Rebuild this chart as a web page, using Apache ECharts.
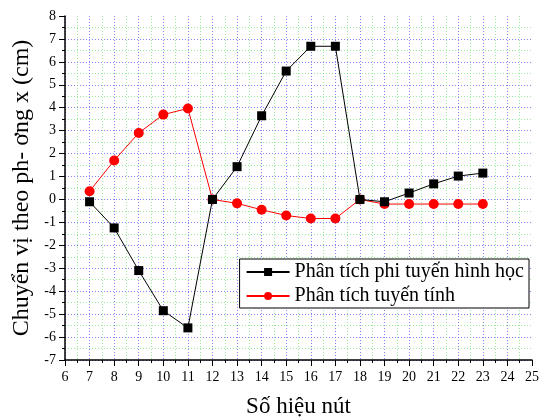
<!DOCTYPE html>
<html><head><meta charset="utf-8">
<script src="https://cdn.jsdelivr.net/npm/echarts@6/dist/echarts.min.js"></script>
<style>html,body{margin:0;padding:0;background:#fff}#c{width:540px;height:419px}</style>
</head><body><div id="c"></div>
<script>
const nodes = [7,8,9,10,11,12,13,14,15,16,17,18,19,20,21,22,23];
const nonlinear = [-0.1,-1.24,-3.1,-4.85,-5.6,0.0,1.43,3.65,5.6,6.68,6.68,0.0,-0.1,0.28,0.68,1.02,1.15];
const linear = [0.36,1.7,2.9,3.7,3.97,0.0,-0.17,-0.45,-0.7,-0.83,-0.83,0.0,-0.2,-0.2,-0.2,-0.2,-0.2];
const seriesNames = ['Phân tích phi tuyến hình học','Phân tích tuyến tính'];
const xTitle = 'Số hiệu nút';
const yTitle = 'Chuyển vị theo ph- ơng x (cm)';

const font = 'Liberation Serif';
const blue = 'rgba(90,90,250,0.75)', green = 'rgba(120,230,120,0.75)';
function cyc(c, n){ const a=[]; for(let i=0;i<n-1;i++) a.push(c); a.push('rgba(0,0,0,0)'); return a; }

const chart = echarts.init(document.getElementById('c'));
chart.setOption({
  animation:false,
  textStyle:{fontFamily:font},
  grid:{left:65,top:16,right:8,bottom:59,outerBoundsMode:'none',containLabel:false},
  legend:{
    orient:'vertical', right:11, top:259, itemWidth:43, itemHeight:10, itemGap:4,
    borderColor:'#000', borderWidth:1, padding:[3,5,2,6], backgroundColor:'#fff',
    textStyle:{fontFamily:font,fontSize:20,color:'#000'},
    data:seriesNames
  },
  xAxis:{
    type:'value', min:6, max:25, interval:1,
    name:xTitle, nameLocation:'middle', nameGap:35,
    nameTextStyle:{fontFamily:font,fontSize:23,color:'#000'},
    axisLine:{onZero:false,lineStyle:{color:'#000',width:1.5}},
    axisTick:{inside:false,length:6,lineStyle:{color:'#000'}},
    minorTick:{show:true,splitNumber:2,length:3,lineStyle:{color:'#000'}},
    axisLabel:{fontFamily:font,fontSize:14,color:'#000',margin:10},
    splitLine:{show:true,lineStyle:{color:cyc(blue,20),type:[1,2],width:1}},
    minorSplitLine:{show:true,lineStyle:{color:green,type:[1,2],width:1}}
  },
  yAxis:{
    type:'value', min:-7, max:8, interval:1,
    name:yTitle, nameLocation:'middle', nameGap:30, nameRotate:90,
    nameTextStyle:{fontFamily:font,fontSize:24,color:'#000'},
    axisLine:{onZero:false,lineStyle:{color:'#000',width:1.5}},
    axisTick:{inside:false,length:6,lineStyle:{color:'#000'}},
    minorTick:{show:true,splitNumber:2,length:3,lineStyle:{color:'#000'}},
    axisLabel:{fontFamily:font,fontSize:14,color:'#000',margin:9},
    splitLine:{show:true,lineStyle:{color:cyc(blue,16),type:[1,2],width:1}},
    minorSplitLine:{show:true,lineStyle:{color:green,type:[1,2],width:1}}
  },
  series:[
    {name:seriesNames[0],type:'line',data:nodes.map((x,i)=>[x,nonlinear[i]]),
     symbol:'rect',symbolSize:9,itemStyle:{color:'#000'},lineStyle:{color:'#000',width:1},z:3},
    {name:seriesNames[1],type:'line',data:nodes.map((x,i)=>[x,linear[i]]),
     symbol:'circle',symbolSize:10,itemStyle:{color:'#ff0000'},lineStyle:{color:'#ff0000',width:1},z:2}
  ]
});
</script></body></html>
